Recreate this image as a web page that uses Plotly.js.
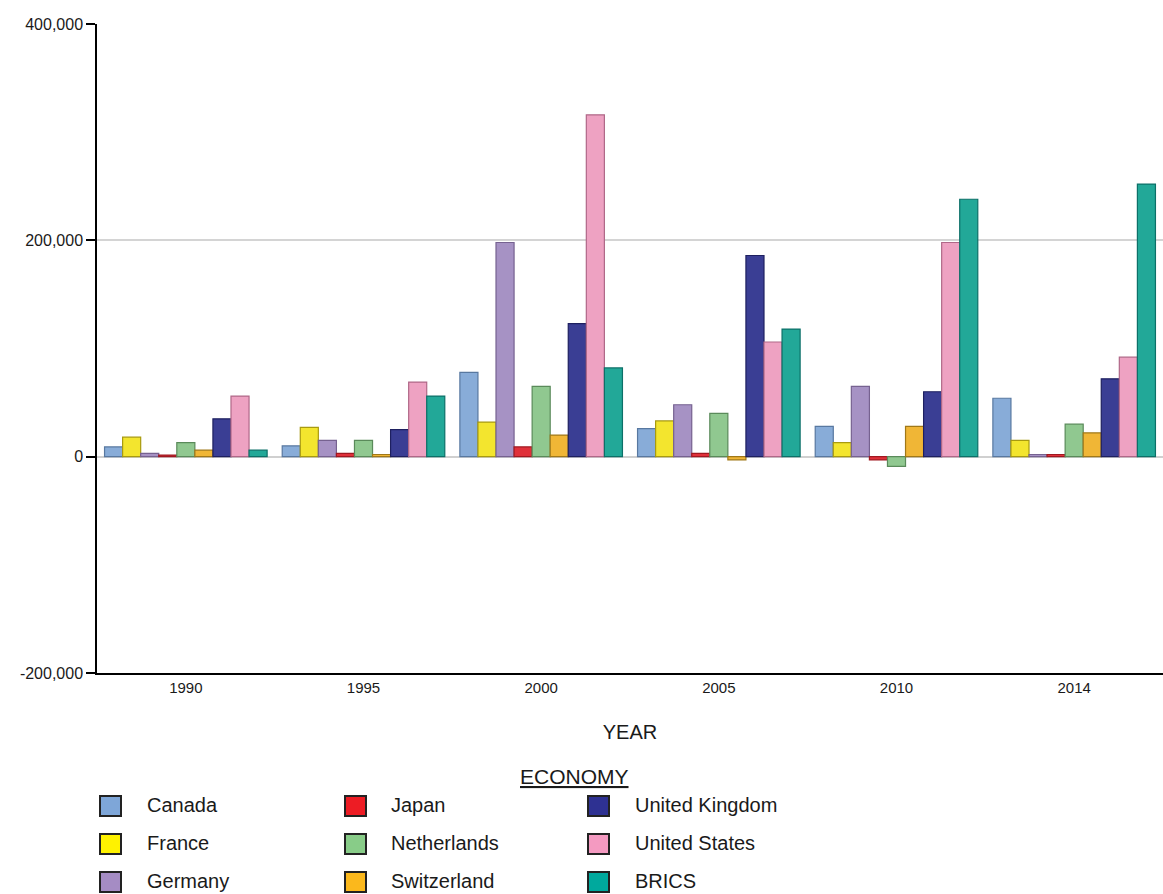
<!DOCTYPE html>
<html>
<head>
<meta charset="utf-8">
<script src="https://cdn.plot.ly/plotly-3.0.1.min.js"></script>
<style>
  html, body { margin: 0; padding: 0; background: #ffffff; }
  #chart { width: 1163px; height: 894px; }
</style>
</head>
<body>
<div id="chart"></div>
<script>
// ---- data ----
const years = ['1990', '1995', '2000', '2005', '2010', '2014'];

const canada      = [9000, 10000, 78000, 26000, 28000, 54000];
const france      = [18000, 27000, 32000, 33000, 13000, 15000];
const germany     = [3000, 15000, 198000, 48000, 65000, 2000];
const japan       = [1500, 3000, 9000, 3000, -3000, 2000];
const netherlands = [13000, 15000, 65000, 40000, -9000, 30000];
const switzerland = [6000, 2000, 20000, -3000, 28000, 22000];
const uk          = [35000, 25000, 123000, 186000, 60000, 72000];
const us          = [56000, 69000, 316000, 106000, 198000, 92000];
const brics       = [6000, 56000, 82000, 118000, 238000, 252000];

const seriesNames = ['Canada', 'France', 'Germany', 'Japan', 'Netherlands',
                     'Switzerland', 'United Kingdom', 'United States', 'BRICS'];
const seriesValues = [canada, france, germany, japan, netherlands,
                      switzerland, uk, us, brics];

const yTickVals = [-200000, 0, 200000, 400000];
const yTickText = ['-200,000', '0', '200,000', '400,000'];

// ---- styles ----
const fillColors = ['#88acd8', '#f3e52e', '#a692c4', '#e0303a', '#90c890',
                    '#f0b636', '#3a3e94', '#eea2c2', '#22a898'];
const lineColors = ['#5878a0', '#a89a10', '#766290', '#a01820', '#5a8a5a',
                    '#a07818', '#1e2060', '#b06888', '#0c7068'];
const swatchColors = ['#7ea6d8', '#fff200', '#a58cc4', '#ed1c24', '#88cc88',
                      '#fbb81c', '#2e3192', '#f49ac1', '#00a99d'];

const FONT = '"Liberation Sans", Arial, sans-serif';
const W = 1163, H = 894;
const L = 97, R = 0, T = 24, B = 221;
const plotW = W - L - R, plotH = H - T - B;
const px2x = p => (p - L) / plotW;
const px2y = p => (H - B - p) / plotH;

const traces = seriesNames.map((name, i) => ({
  type: 'bar',
  name: name,
  x: years,
  y: seriesValues[i],
  marker: { color: fillColors[i], line: { color: lineColors[i], width: 1.2 } },
  showlegend: false,
  hoverinfo: 'x+y+name'
}));

// custom legend (3 columns, column-major order)
const colSwatchX = [100, 345, 588];
const colTextX = [145, 389, 633];
const rowY = [806, 844, 882];
const shapes = [];
const annotations = [];
seriesNames.forEach((name, i) => {
  const col = Math.floor(i / 3), row = i % 3;
  const sx = colSwatchX[col], sy = rowY[row];
  shapes.push({
    type: 'rect', xref: 'paper', yref: 'paper',
    x0: px2x(sx), x1: px2x(sx + 21),
    y0: px2y(sy - 10), y1: px2y(sy + 10),
    fillcolor: swatchColors[i],
    line: { color: '#222222', width: 2 }
  });
  annotations.push({
    xref: 'paper', yref: 'paper',
    x: px2x(colTextX[col]), y: px2y(sy - 1),
    xanchor: 'left', yanchor: 'middle', showarrow: false,
    text: name,
    font: { family: FONT, size: 20, color: '#1a1a1a' }
  });
});
annotations.push({
  xref: 'paper', yref: 'paper',
  x: px2x(574), y: px2y(776),
  xanchor: 'center', yanchor: 'middle', showarrow: false,
  text: '<u>ECONOMY</u>',
  font: { family: FONT, size: 21, color: '#1a1a1a' }
});

const layout = {
  width: W, height: H,
  margin: { l: L, r: R, t: T, b: B, pad: 0 },
  paper_bgcolor: '#ffffff',
  plot_bgcolor: '#ffffff',
  barmode: 'group',
  bargap: 0.085,
  bargroupgap: 0,
  showlegend: false,
  font: { family: FONT, size: 16, color: '#1a1a1a' },
  xaxis: {
    type: 'category',
    range: [-0.5, 5.5],
    showline: true, linecolor: '#000000', linewidth: 1.5,
    showgrid: false, zeroline: false,
    ticks: '',
    tickfont: { family: FONT, size: 15, color: '#1a1a1a' },
    title: { text: 'YEAR', font: { family: FONT, size: 20, color: '#1a1a1a' }, standoff: 30 }
  },
  yaxis: {
    range: [-200000, 400000],
    tickvals: yTickVals, ticktext: yTickText,
    showline: true, linecolor: '#000000', linewidth: 1.5,
    ticks: 'outside', ticklen: 9, tickcolor: '#000000', tickwidth: 1.5,
    showgrid: true, gridcolor: '#d4d4d4', gridwidth: 1.5,
    zeroline: true, zerolinecolor: '#d0d0d0', zerolinewidth: 1.5,
    tickfont: { family: FONT, size: 16, color: '#1a1a1a' }
  },
  shapes: shapes,
  annotations: annotations
};

Plotly.newPlot('chart', traces, layout, { displayModeBar: false, responsive: false });
</script>
</body>
</html>
